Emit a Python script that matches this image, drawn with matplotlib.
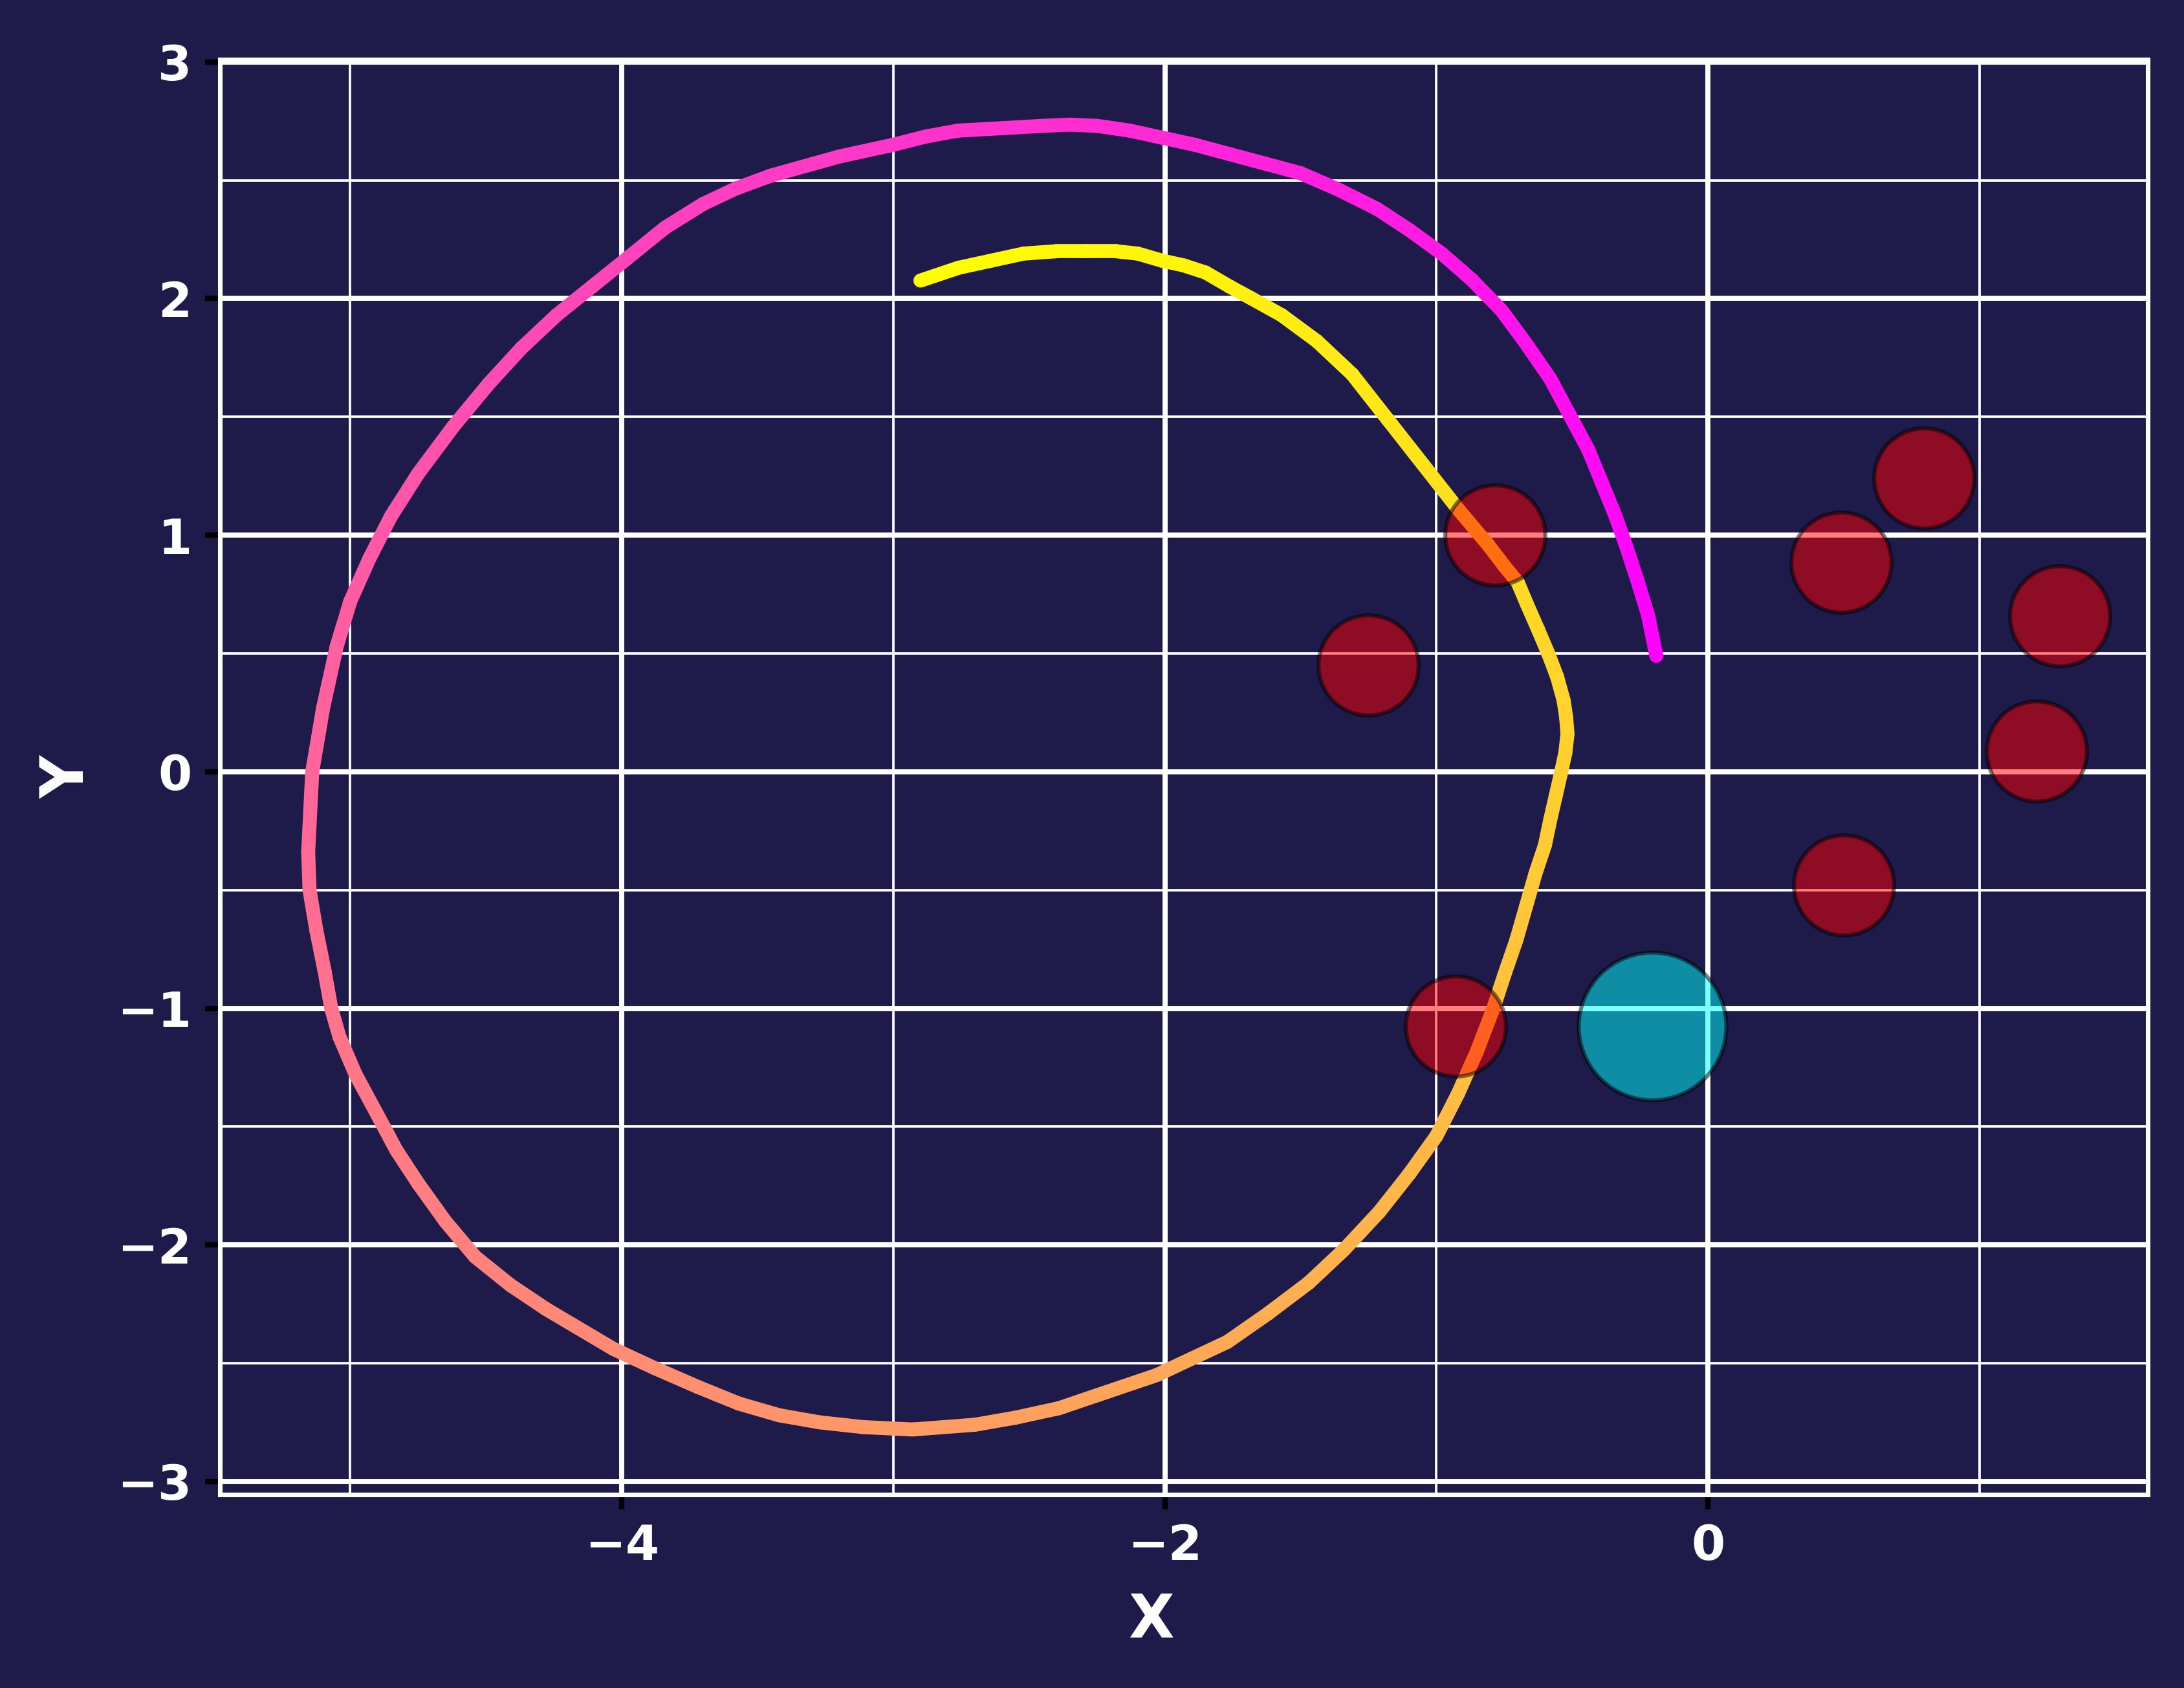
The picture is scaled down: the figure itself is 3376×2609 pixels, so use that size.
import numpy as np
import matplotlib
matplotlib.use('Agg')
import matplotlib.pyplot as plt
from matplotlib.collections import LineCollection
from matplotlib.ticker import MultipleLocator

# Trajectory, ordered from start (magenta) to end (yellow)
path_x = [-0.19, -0.22, -0.26, -0.30, -0.34, -0.39, -0.44, -0.51, -0.58, -0.67,
          -0.76, -0.87, -0.98, -1.10, -1.22, -1.36, -1.50, -1.63, -1.76, -1.89,
          -2.01, -2.13, -2.25, -2.35, -2.45, -2.60, -2.76, -2.88, -3.00, -3.20,
          -3.45, -3.58, -3.70, -3.84, -3.98, -4.11, -4.24, -4.37, -4.49, -4.62,
          -4.75, -4.85, -4.93, -5.00, -5.05, -5.10, -5.14, -5.155, -5.15, -5.125,
          -5.095, -5.07, -5.04, -4.98, -4.90, -4.83, -4.75, -4.65, -4.54, -4.41,
          -4.28, -4.03, -3.88, -3.72, -3.57, -3.42, -3.27, -3.11, -2.93, -2.70,
          -2.55, -2.39, -2.21, -2.03, -1.90, -1.77, -1.62, -1.47, -1.34, -1.21,
          -1.10, -1.00, -0.92, -0.85, -0.79, -0.75, -0.705, -0.67, -0.635, -0.60,
          -0.58, -0.56, -0.54, -0.525, -0.517, -0.522, -0.531, -0.555, -0.588, -0.625,
          -0.667, -0.70, -0.75, -0.81, -0.92, -1.05, -1.18, -1.31, -1.44, -1.57,
          -1.68, -1.76, -1.85, -1.93, -2.01, -2.10, -2.18, -2.29, -2.40, -2.52,
          -2.64, -2.76, -2.90]
path_y = [0.49, 0.66, 0.81, 0.95, 1.08, 1.22, 1.36, 1.51, 1.66, 1.81,
          1.95, 2.08, 2.19, 2.29, 2.38, 2.46, 2.53, 2.57, 2.61, 2.65,
          2.68, 2.71, 2.73, 2.735, 2.73, 2.72, 2.71, 2.685, 2.65, 2.60,
          2.52, 2.465, 2.40, 2.30, 2.17, 2.05, 1.93, 1.79, 1.64, 1.46,
          1.26, 1.08, 0.90, 0.72, 0.53, 0.27, 0.00, -0.34, -0.50, -0.67,
          -0.84, -1.00, -1.12, -1.28, -1.45, -1.60, -1.74, -1.90, -2.05, -2.17,
          -2.27, -2.44, -2.52, -2.60, -2.67, -2.72, -2.75, -2.77, -2.78, -2.76,
          -2.73, -2.69, -2.62, -2.55, -2.48, -2.41, -2.29, -2.16, -2.02, -1.86,
          -1.70, -1.54, -1.36, -1.18, -1.00, -0.86, -0.71, -0.57, -0.43, -0.31,
          -0.20, -0.10, 0.00, 0.08, 0.16, 0.23, 0.30, 0.40, 0.50, 0.60,
          0.71, 0.80, 0.87, 0.96, 1.11, 1.30, 1.49, 1.68, 1.82, 1.93,
          2.00, 2.05, 2.11, 2.14, 2.16, 2.19, 2.20, 2.20, 2.20, 2.19,
          2.16, 2.13, 2.076]

# Obstacles (red) and target (cyan)
obstacle_x = [-0.785, -1.25, -0.93, 0.49, 0.796, 1.295, 1.21, 0.50]
obstacle_y = [1.00, 0.45, -1.076, 0.885, 1.24, 0.658, 0.088, -0.48]
target_x = [-0.205]
target_y = [-1.076]

BG = '#1e1b4b'

fig = plt.figure(figsize=(3376 / 300, 2609 / 300), dpi=300, facecolor=BG)
ax = fig.add_axes([0.1007, 0.1146, 0.8827, 0.8501])
ax.set_facecolor(BG)

px = np.asarray(path_x)
py = np.asarray(path_y)
pts = np.column_stack([px, py]).reshape(-1, 1, 2)
segs = np.concatenate([pts[:-1], pts[1:]], axis=1)
seglen = np.hypot(np.diff(px), np.diff(py))
cum = np.concatenate([[0], np.cumsum(seglen)])
mid = (cum[:-1] + cum[1:]) / 2 / cum[-1]
lc = LineCollection(segs, cmap='spring', linewidths=5.2, zorder=2,
                    capstyle='round')
lc.set_array(mid)
lc.set_clim(0, 1)
ax.add_collection(lc)

ax.scatter(obstacle_x, obstacle_y, s=1380, color='red', alpha=0.5,
           edgecolors='black', linewidths=1.5, zorder=3)
ax.scatter(target_x, target_y, s=3000, color='cyan', alpha=0.5,
           edgecolors='black', linewidths=1.5, zorder=3)

ax.set_xlim(-5.48, 1.62)
ax.set_ylim(-3.055, 3.01)

ax.xaxis.set_major_locator(MultipleLocator(2))
ax.xaxis.set_minor_locator(MultipleLocator(1))
ax.yaxis.set_major_locator(MultipleLocator(1))
ax.yaxis.set_minor_locator(MultipleLocator(0.5))

ax.set_axisbelow(True)
ax.grid(which='major', color='white', linewidth=1.9)
ax.grid(which='minor', color='white', linewidth=0.9)

ax.tick_params(which='minor', length=0)
ax.tick_params(which='major', length=5.5, width=2, color='black',
               labelcolor='white', labelsize=18, pad=5)
for lab in ax.get_xticklabels() + ax.get_yticklabels():
    lab.set_fontweight('bold')

for sp in ax.spines.values():
    sp.set_color('white')
    sp.set_linewidth(1.7)

ax.set_xlabel('X', color='white', fontsize=22, fontweight='bold')
ax.set_ylabel('Y', color='white', fontsize=22, fontweight='bold')
ax.xaxis.set_label_coords(0.483, -0.0675)
ax.yaxis.set_label_coords(-0.064, 0.5)

fig.savefig('out.png', dpi=300, facecolor=BG)
